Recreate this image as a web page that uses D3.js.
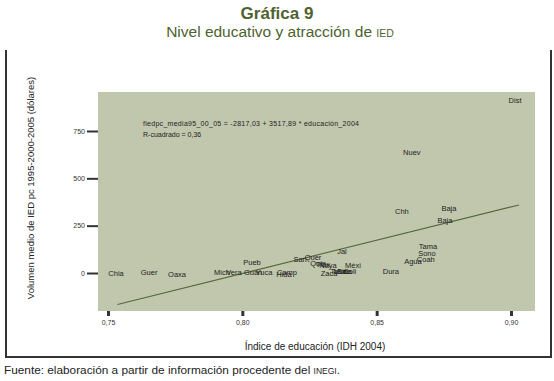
<!DOCTYPE html>
<html>
<head>
<meta charset="utf-8">
<script src="https://cdn.jsdelivr.net/npm/d3@7"></script>
<style>
    body { margin: 0; background: #fff; }
    svg { display: block; font-family: "Liberation Sans", Arial, sans-serif; }
</style>
</head>
<body>
<svg width="554" height="381"></svg>
<script>
// estados (etiquetas de los puntos)
const estados = ["Dist", "Nuev", "Chh", "Baja", "Baja", "Tama", "Sono", "Coah", "Agua", "Dura",
    "Jal", "Quer", "San", "Quin", "Naya", "Tlax", "Méxi", "More", "Zaca", "Taba", "Sina", "Coli",
    "Camp", "Hida", "Pueb", "Guan", "Yuca", "Mich", "Vera", "Oaxa", "Guer", "Chia"];
// índice de educación (IDH 2004)
const educacion = [0.9015, 0.8631, 0.8594, 0.8769, 0.8754, 0.8691, 0.8687, 0.8683, 0.8635, 0.8553,
    0.8371, 0.8263, 0.8215, 0.8282, 0.8319, 0.8300, 0.8412, 0.8371, 0.8323, 0.8358, 0.8380, 0.8400,
    0.8166, 0.8155, 0.8036, 0.8040, 0.8081, 0.7924, 0.7969, 0.7757, 0.7653, 0.7530];
// volumen medio de IED pc (dólares)
const ied = [914, 639, 328, 343, 280, 143, 106, 74, 63, 10,
    116, 85, 74, 53, 42, 48, 42, 10, 0, 10, 10, 10,
    5, -8, 58, 5, 5, 5, 5, -5, 5, 0];

const ticksX = [0.75, 0.80, 0.85, 0.90];
const ticksY = [0, 250, 500, 750];

// recta de regresión
const coef = [-2817.03, 3517.89];
const rectaX = [0.7535, 0.903];

function fmt(v, dec) {
    return v.toFixed(dec).replace(".", ",");
}

function drawGraph() {
    const svg = d3.select("svg");
    const verde = "#4e6230";

    // título
    svg.append("text")
        .attr("x", 277).attr("y", 19)
        .attr("text-anchor", "middle")
        .style("font-size", "17px").style("font-weight", "bold")
        .style("fill", verde)
        .text("Gráfica 9");
    const sub = svg.append("text")
        .attr("x", 280).attr("y", 37)
        .attr("text-anchor", "middle")
        .style("font-size", "15.5px")
        .style("fill", verde);
    sub.append("tspan").text("Nivel educativo y atracción de ");
    sub.append("tspan").style("font-size", "10.5px").text("IED");

    // marco
    svg.append("path")
        .attr("d", "M6,50 V357 H551 V50")
        .attr("fill", "none")
        .attr("stroke", "#333")
        .attr("stroke-width", 2);

    const attr_area = { left: 98, top: 92, right: 535, bottom: 311 };

    const scX = d3.scaleLinear()
        .domain([0.75, 0.90])
        .range([108, 511]);
    const scY = d3.scaleLinear()
        .domain([0, 750])
        .range([273, 131]);

    svg.append("rect")
        .attr("x", attr_area.left).attr("y", attr_area.top)
        .attr("width", attr_area.right - attr_area.left)
        .attr("height", attr_area.bottom - attr_area.top)
        .style("fill", "#c0c7ad");

    // eje X
    const axisX = d3.axisBottom(scX)
        .tickValues(ticksX)
        .tickSize(5)
        .tickPadding(4)
        .tickFormat(d => fmt(d, 2));
    const gx = svg.append("g")
        .attr("transform", `translate(0, ${attr_area.bottom})`)
        .call(axisX);
    gx.select(".domain").remove();
    gx.selectAll("line").attr("stroke", "#333").attr("stroke-width", 3);
    gx.selectAll("text").style("font-size", "7px").style("fill", "#333");

    // eje Y
    const axisY = d3.axisLeft(scY)
        .tickValues(ticksY)
        .tickSize(11)
        .tickPadding(2);
    const gy = svg.append("g")
        .attr("transform", `translate(${attr_area.left}, 0)`)
        .call(axisY);
    gy.select(".domain").remove();
    gy.selectAll("line").attr("stroke", "#333").attr("stroke-width", 2);
    gy.selectAll("text").style("font-size", "7px").style("fill", "#333");

    // títulos de ejes
    svg.append("text")
        .attr("transform", "translate(34, 188) rotate(-90)")
        .attr("text-anchor", "middle")
        .style("font-size", "9.5px").style("fill", "#222")
        .text("Volumen medio de IED pc 1995-2000-2005 (dólares)");
    svg.append("text")
        .attr("x", 315).attr("y", 350)
        .attr("text-anchor", "middle")
        .style("font-size", "10px").style("fill", "#222")
        .text("Índice de educación (IDH 2004)");

    // recta
    const line = d3.line()
        .x(d => scX(d))
        .y(d => scY(coef[0] + coef[1] * d));
    svg.append("path")
        .datum(rectaX)
        .attr("d", line)
        .attr("fill", "none")
        .attr("stroke", "#56683a")
        .attr("stroke-width", 1.1);

    // ecuación
    svg.append("text")
        .attr("x", 143).attr("y", 126)
        .attr("textLength", 216)
        .style("font-size", "7px").style("fill", "#222")
        .text(`fiedpc_media95_00_05 = ${fmt(coef[0], 2)} + ${fmt(coef[1], 2)} * educación_2004`);
    svg.append("text")
        .attr("x", 143).attr("y", 137)
        .style("font-size", "7px").style("fill", "#222")
        .text("R-cuadrado = 0,36");

    // etiquetas de los estados
    svg.selectAll(".lbl")
        .data(estados)
        .enter()
        .append("text")
        .attr("class", "lbl")
        .attr("x", (d, i) => scX(educacion[i]))
        .attr("y", (d, i) => scY(ied[i]))
        .attr("dy", "0.35em")
        .attr("text-anchor", "middle")
        .style("font-size", "7.5px").style("fill", "#222")
        .text(d => d);

    // fuente
    const src = svg.append("text")
        .attr("x", 4).attr("y", 374)
        .style("font-size", "11.8px").style("fill", "#222");
    src.append("tspan").text("Fuente: elaboración a partir de información procedente del ");
    src.append("tspan").style("font-size", "8.5px").text("INEGI");
    src.append("tspan").text(".");
}

drawGraph();
</script>
</body>
</html>
